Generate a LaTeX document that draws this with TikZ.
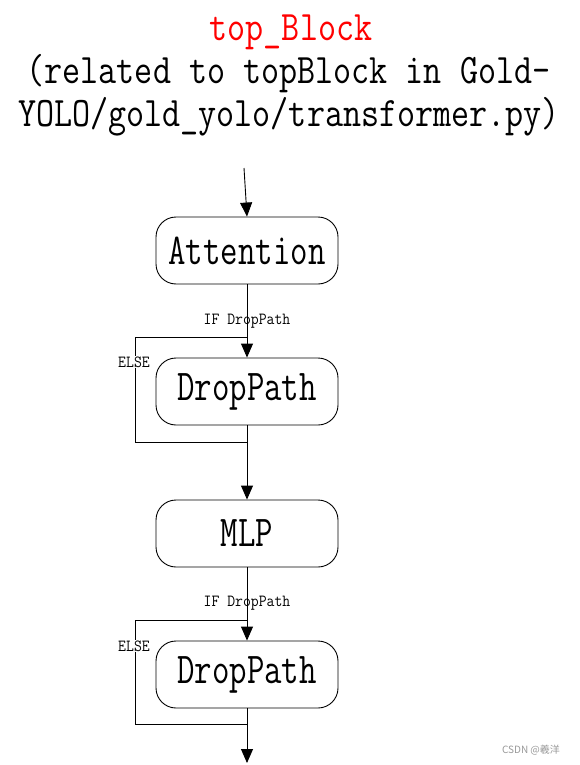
\documentclass[tikz,border=0pt]{standalone}
\usepackage{fontspec}
\usepackage{graphicx}
\usetikzlibrary{arrows.meta}
\newfontfamily\cjk{Noto Sans CJK SC}
\newcommand{\nx}[1]{\scalebox{0.77}[1]{#1}}
\newcommand{\tx}[1]{\scalebox{0.835}[1]{#1}}
\newcommand{\lx}[1]{\scalebox{0.9}[1]{#1}}
\begin{document}
\begin{tikzpicture}[x=1pt,y=-1pt,
  box/.style={draw, line width=0.9pt, rounded corners=20pt, minimum width=182pt,
    minimum height=67pt, inner sep=0pt, font=\fontsize{44}{48}\selectfont\ttfamily},
  ttl/.style={anchor=base, inner sep=0pt, font=\fontsize{42}{46}\selectfont\ttfamily},
  lbl/.style={inner sep=0pt, font=\fontsize{17}{19}\selectfont\ttfamily},
  elbl/.style={lbl, fill=white, inner sep=1pt},
  arr/.style={line width=0.9pt, -{Triangle[width=12pt,length=14pt]}},
  ln/.style={line width=0.9pt}]
\useasboundingbox[fill=white] (0,0) rectangle (580,765);
% title
\node[ttl, text=red] (t1) at (291,41) {\tx{top\_Block}};
\node[ttl] (t2) at (288.5,84) {\tx{(related to topBlock in Gold-}};
\node[ttl] (t3) at (289,127) {\tx{YOLO/gold\_yolo/transformer.py)}};
% boxes
\node[box] (att) at (247,250.5) {\nx{Attention}};
\node[box] (dp1) at (247,391.5) {\nx{DropPath}};
\node[box] (mlp) at (247,533.5) {\nx{MLP}};
\node[box] (dp2) at (247,674.5) {\nx{DropPath}};
% coordinates
\coordinate (in) at (244,168);
\coordinate (out) at (247,763);
\coordinate (s1) at (247,337);
\coordinate (b1a) at (135,337);
\coordinate (b1b) at (135,442);
\coordinate (j1) at (247,442);
\coordinate (s2) at (247,620);
\coordinate (b2a) at (135,620);
\coordinate (b2b) at (135,724);
\coordinate (j2) at (247,724);
% connectors
\draw[arr] (in) -- (att.north);
\draw[arr] (att.south) -- (dp1.north);
\draw[ln] (s1) -- (b1a) -- (b1b) -- (j1);
\draw[arr] (dp1.south) -- (mlp.north);
\draw[arr] (mlp.south) -- (dp2.north);
\draw[ln] (s2) -- (b2a) -- (b2b) -- (j2);
\draw[arr] (dp2.south) -- (out);
% labels
\node[lbl] (if1) at (247,321) {\lx{IF DropPath}};
\node[elbl] (el1) at (134,362) {\lx{ELSE}};
\node[lbl] (if2) at (247,603) {\lx{IF DropPath}};
\node[elbl] (el2) at (134,646) {\lx{ELSE}};
% watermark
\node[inner sep=0pt, text=black!40, font=\fontsize{10}{12}\selectfont\cjk] (wm) at (531,750) {CSDN @羲洋};
\end{tikzpicture}
\end{document}
